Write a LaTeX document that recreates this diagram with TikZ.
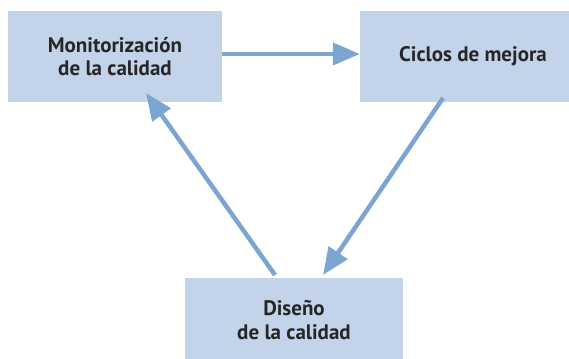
\documentclass[tikz,border=0pt]{standalone}
\usepackage{fontspec}
\setmainfont{PT Sans}
\usetikzlibrary{arrows.meta}
\definecolor{boxblue}{HTML}{C3D4EA}
\definecolor{arrowblue}{HTML}{7CA5D2}
\tikzset{
  stagebox/.style={fill=boxblue, draw=none, align=center, font=\fontsize{21}{23.5}\selectfont\bfseries, text=black!85},
  cyclearrow/.style={draw=arrowblue, line width=4.5pt, -{Triangle[length=27pt,width=22pt]}}
}
\begin{document}
\begin{tikzpicture}[x=1pt,y=1pt]
    \useasboundingbox (0,0) rectangle (569,358);
    \node[stagebox, minimum width=214pt, minimum height=91pt] (monit) at (115,301.5) {Monitorización\\de la calidad};
    \node[stagebox, minimum width=226pt, minimum height=91pt] (ciclos) at (473,301.5) {Ciclos de mejora};
    \node[stagebox, minimum width=218pt, minimum height=84pt] (diseno) at (294,38) {Diseño\\de la calidad};
    \coordinate (cicout) at (443,260);
    \coordinate (disin) at (323,83);
    \coordinate (disout) at (275,83);
    \coordinate (monin) at (146,265);
    \draw[cyclearrow] ([yshift=2.5pt]monit.east) -- ([yshift=2.5pt]ciclos.west);
    \draw[cyclearrow] (cicout) -- (disin);
    \draw[cyclearrow] (disout) -- (monin);
  \end{tikzpicture}
\end{document}
